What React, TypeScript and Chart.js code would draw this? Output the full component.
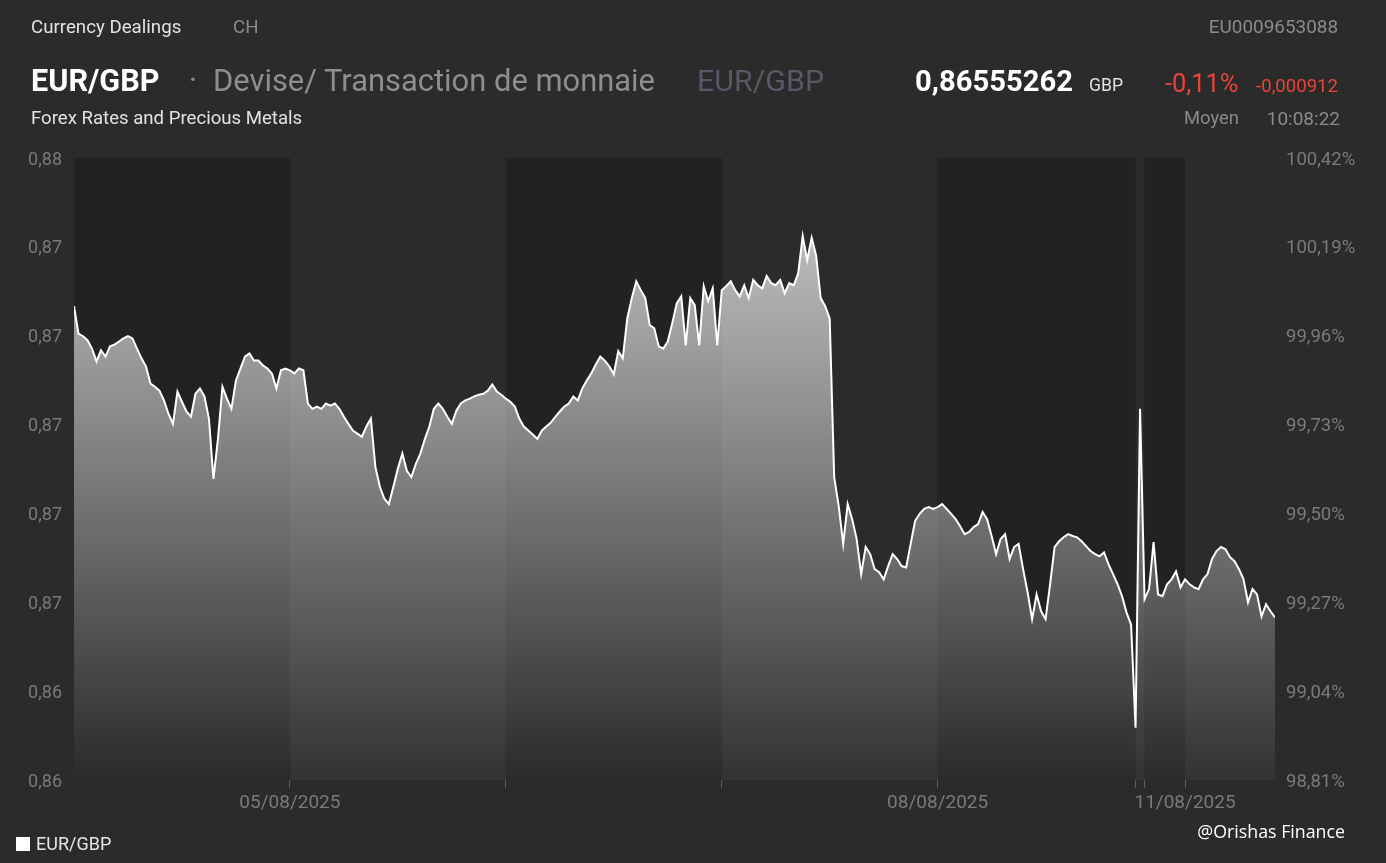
import React, { useEffect, useRef } from 'react';
import { Chart, registerables } from 'chart.js';

Chart.register(...registerables);

// ---- Data -------------------------------------------------------------
// Reference price used for the % axis (100 %)
const REF_PRICE = 0.87226;
const PCT_MIN = 98.81;
const PCT_MAX = 100.42;
const Y_TICK_COUNT = 8;

// Trading-time axis (hours on a compressed session axis), 30 min sampling
const SAMPLE_STEP = 0.5;
const DAY_BOUNDS = [0, 24, 48, 72, 96, 118, 119, 123.5];
const AXIS_END = 133.5;
const X_TICK_LABELS = ['05/08/2025', '', '', '08/08/2025', '', '', '11/08/2025'];

const P_0408 = [0.87258, 0.87196, 0.8719, 0.87181, 0.87162, 0.87133, 0.87158, 0.87144, 0.87167, 0.87171,
  0.87178, 0.87185, 0.8719, 0.87185, 0.87162, 0.8714, 0.87122, 0.87083, 0.87076, 0.87067,
  0.87045, 0.87015, 0.86992, 0.87065, 0.87042, 0.8702, 0.87008, 0.8706, 0.87072, 0.87054,
  0.87004, 0.86868, 0.86958, 0.87076, 0.87049, 0.87026, 0.8709, 0.87117, 0.87144, 0.87151,
  0.87135, 0.87135, 0.87124, 0.87117, 0.87106, 0.87072, 0.87113, 0.87117];
const P_0508 = [0.87113, 0.87106, 0.87117, 0.87113, 0.87038, 0.87026, 0.87031, 0.87026, 0.87038, 0.87033,
  0.87038, 0.87026, 0.87008, 0.86992, 0.86977, 0.8697, 0.86963, 0.86986, 0.87004, 0.86895,
  0.8685, 0.86823, 0.86811, 0.8685, 0.86891, 0.86925, 0.86886, 0.86872, 0.86902, 0.86925,
  0.86958, 0.86986, 0.87026, 0.87038, 0.87026, 0.87008, 0.86992, 0.87022, 0.87038, 0.87045,
  0.87049, 0.87054, 0.87058, 0.8706, 0.87067, 0.87081, 0.87065, 0.87058];
const P_0608 = [0.87049, 0.87042, 0.87031, 0.87004, 0.86986, 0.86977, 0.86968, 0.86958, 0.86977, 0.86986,
  0.86995, 0.87008, 0.8702, 0.87031, 0.87038, 0.87054, 0.87045, 0.87072, 0.8709, 0.87106,
  0.87126, 0.87144, 0.87135, 0.87122, 0.87104, 0.87156, 0.8714, 0.8723, 0.87276, 0.87314,
  0.87294, 0.87276, 0.87215, 0.87208, 0.87167, 0.87162, 0.87178, 0.87219, 0.87264, 0.8728,
  0.87169, 0.87276, 0.8726, 0.87169, 0.87303, 0.87269, 0.87298, 0.87169];
const P_0708 = [0.87294, 0.87303, 0.87314, 0.87294, 0.8728, 0.87305, 0.87276, 0.87317, 0.87305, 0.87298,
  0.87326, 0.8731, 0.87305, 0.87317, 0.87287, 0.8731, 0.87305, 0.87332, 0.87416, 0.87362,
  0.87412, 0.87371, 0.87276, 0.87258, 0.8723, 0.86872, 0.86807, 0.86721, 0.86811, 0.86777,
  0.86732, 0.86653, 0.86714, 0.86698, 0.86664, 0.86657, 0.86641, 0.86671, 0.86698, 0.86687,
  0.86671, 0.86668, 0.86721, 0.86773, 0.86789, 0.868, 0.86804, 0.868];
const P_0808 = [0.86804, 0.86811, 0.868, 0.86789, 0.86777, 0.86761, 0.86743, 0.86748, 0.86759, 0.86766,
  0.86793, 0.86777, 0.86739, 0.86698, 0.86732, 0.86743, 0.86687, 0.86714, 0.86721, 0.86664,
  0.86612, 0.86551, 0.86607, 0.86569, 0.86551, 0.8663, 0.86714, 0.86727, 0.86736, 0.86743,
  0.86739, 0.86736, 0.86727, 0.86716, 0.86705, 0.86698, 0.86693, 0.86702, 0.86675, 0.86653,
  0.8663, 0.86603, 0.86566, 0.86539, 0.86306];
const P_WEEKEND = [0.87026];
const P_1008 = [0.86596, 0.86619, 0.86725, 0.86607, 0.86603, 0.8663, 0.86641, 0.86659, 0.86623];
const P_1108 = [0.86641, 0.8663, 0.86623, 0.86619, 0.86641, 0.86653, 0.86687, 0.86705, 0.86714, 0.86709,
  0.86691, 0.86682, 0.86664, 0.86641, 0.86589, 0.86619, 0.86607, 0.86557, 0.86585, 0.86569,
  0.86555];

const SESSIONS = [P_0408, P_0508, P_0608, P_0708, P_0808, P_WEEKEND, P_1008, P_1108];
const SESSION_STARTS = [0, 24, 48, 72, 96, 118.5, 119, 123.5];

// ---- Styles -------------------------------------------------------------
const PAGE_BG = '#2b2b2b';
const DARK_BAND = '#222222';
const AXIS_TEXT = '#7a7a7a';

function Txt(props: {
  x: number; y: number; size: number; color: string; weight?: number;
  right?: boolean; family?: string; children: React.ReactNode;
}) {
  const { x, y, size, color, weight, right, family, children } = props;
  const style: React.CSSProperties = {
    position: 'absolute',
    top: y - size * 0.49,
    fontSize: size,
    lineHeight: `${size}px`,
    color,
    fontWeight: weight || 400,
    fontFamily: family || 'Roboto, sans-serif',
    whiteSpace: 'nowrap',
  };
  if (right) style.right = 1386 - x; else style.left = x;
  return <div style={style}>{children}</div>;
}

export default function App() {
  const canvasRef = useRef<HTMLCanvasElement>(null);

  useEffect(() => {
    document.body.style.margin = '0';
    const canvas = canvasRef.current;
    if (!canvas) return;

    const points: { x: number; y: number }[] = [];
    SESSIONS.forEach((arr, s) => {
      arr.forEach((v, i) => points.push({ x: SESSION_STARTS[s] + i * SAMPLE_STEP, y: v }));
    });

    const yMin = REF_PRICE * PCT_MIN / 100;
    const yMax = REF_PRICE * PCT_MAX / 100;

    const bandPlugin = {
      id: 'dayBands',
      beforeDatasetsDraw(chart: any) {
        const { ctx, chartArea, scales } = chart;
        ctx.save();
        ctx.fillStyle = DARK_BAND;
        for (let i = 0; i < DAY_BOUNDS.length; i += 2) {
          const x0 = scales.x.getPixelForValue(DAY_BOUNDS[i]);
          const end = i + 1 < DAY_BOUNDS.length ? DAY_BOUNDS[i + 1] : AXIS_END;
          const x1 = scales.x.getPixelForValue(end);
          ctx.fillRect(x0, chartArea.top, x1 - x0, chartArea.bottom - chartArea.top);
        }
        ctx.restore();
      },
    };

    Chart.defaults.font.family = 'Roboto, sans-serif';
    Chart.defaults.font.size = 18;

    const chart = new Chart(canvas, {
      type: 'line',
      data: {
        datasets: [
          {
            label: 'EUR/GBP',
            data: points,
            borderColor: '#ffffff',
            borderWidth: 2,
            pointRadius: 0,
            tension: 0,
            fill: 'start',
            backgroundColor: (c: any) => {
              const { chart: ch } = c;
              const area = ch.chartArea;
              if (!area) return 'rgba(255,255,255,0.3)';
              const g = ch.ctx.createLinearGradient(0, area.top, 0, area.bottom);
              g.addColorStop(0, 'rgba(255,255,255,0.78)');
              g.addColorStop(1, 'rgba(255,255,255,0.04)');
              return g;
            },
          },
        ],
      },
      options: {
        responsive: false,
        animation: false,
        devicePixelRatio: 1,
        layout: { padding: { left: 8, right: 11, top: 158, bottom: 43 } },
        plugins: { legend: { display: false }, tooltip: { enabled: false } },
        scales: {
          x: {
            type: 'linear',
            min: 0,
            max: AXIS_END,
            afterFit: (s: any) => { s.height = 40; },
            afterBuildTicks: (s: any) => {
              s.ticks = DAY_BOUNDS.slice(1).map((v) => ({ value: v }));
            },
            grid: { display: true, drawOnChartArea: false, drawTicks: true, tickLength: 8, color: '#5a5a5a', lineWidth: 1 },
            border: { display: false },
            ticks: {
              autoSkip: false,
              maxRotation: 0,
              padding: 4,
              color: AXIS_TEXT,
              font: { size: 19 },
              callback: (_v: any, i: number) => X_TICK_LABELS[i],
            },
          },
          y: {
            type: 'linear',
            position: 'left',
            min: yMin,
            max: yMax,
            afterFit: (s: any) => { s.width = 66; },
            afterBuildTicks: (s: any) => {
              const t = [];
              for (let k = 0; k < Y_TICK_COUNT; k++) t.push({ value: yMin + (k * (yMax - yMin)) / (Y_TICK_COUNT - 1) });
              s.ticks = t;
            },
            grid: { display: false, drawTicks: false },
            border: { display: false },
            ticks: {
              padding: 12,
              labelOffset: 2,
              color: AXIS_TEXT,
              font: { size: 18 },
              callback: (v: any) => Number(v).toFixed(2).replace('.', ','),
            },
          },
          y1: {
            type: 'linear',
            position: 'right',
            min: PCT_MIN,
            max: PCT_MAX,
            afterFit: (s: any) => { s.width = 100; },
            afterBuildTicks: (s: any) => {
              const t = [];
              for (let k = 0; k < Y_TICK_COUNT; k++) t.push({ value: PCT_MIN + (k * (PCT_MAX - PCT_MIN)) / (Y_TICK_COUNT - 1) });
              s.ticks = t;
            },
            grid: { display: false, drawTicks: false },
            border: { display: false },
            ticks: {
              padding: 11,
              labelOffset: 2,
              color: AXIS_TEXT,
              font: { size: 18.5 },
              callback: (v: any) => Number(v).toFixed(2).replace('.', ',') + '%',
            },
          },
        },
      },
      plugins: [bandPlugin],
    } as any);

    return () => chart.destroy();
  }, []);

  return (
    <div style={{ position: 'absolute', left: 0, top: 0, width: 1386, height: 863, background: PAGE_BG, overflow: 'hidden', fontFamily: 'Roboto, sans-serif' }}>
      <canvas ref={canvasRef} width={1386} height={863} style={{ position: 'absolute', left: 0, top: 0, width: 1386, height: 863 }} />
      <Txt x={31} y={27} size={18.7} color="#e2e2e2">Currency Dealings</Txt>
      <Txt x={233} y={27} size={18.7} color="#8a8a8a">CH</Txt>
      <Txt x={1338} y={27} size={18.9} color="#8a8a8a" right>EU0009653088</Txt>

      <Txt x={31} y={81} size={30.6} color="#ffffff" weight={700}>EUR/GBP</Txt>
      <Txt x={189} y={81} size={30.6} color="#8e8e8e">·</Txt>
      <Txt x={213} y={81} size={30.9} color="#8e8e8e">Devise/ Transaction de monnaie</Txt>
      <Txt x={697} y={81} size={30.4} color="#5b5766">EUR/GBP</Txt>
      <Txt x={915} y={81} size={29.2} color="#ffffff" weight={700}>0,86555262</Txt>
      <Txt x={1089} y={86} size={17.6} color="#e0e0e0">GBP</Txt>
      <Txt x={1165} y={83} size={25.4} color="#e8443a">-0,11%</Txt>
      <Txt x={1338} y={86} size={18.6} color="#e8443a" right>-0,000912</Txt>

      <Txt x={31} y={118} size={18.6} color="#e2e2e2">Forex Rates and Precious Metals</Txt>
      <Txt x={1184} y={118} size={18.4} color="#8a8a8a">Moyen</Txt>
      <Txt x={1340} y={118} size={19} color="#8a8a8a" right>10:08:22</Txt>

      <div style={{ position: 'absolute', left: 16, top: 837, width: 14, height: 14, background: '#ffffff' }} />
      <Txt x={36} y={844} size={18} color="#e6e6e6">EUR/GBP</Txt>
      <Txt x={1345} y={832} size={17.8} color="#ffffff" right family="'Open Sans', sans-serif">@Orishas Finance</Txt>
    </div>
  );
}
